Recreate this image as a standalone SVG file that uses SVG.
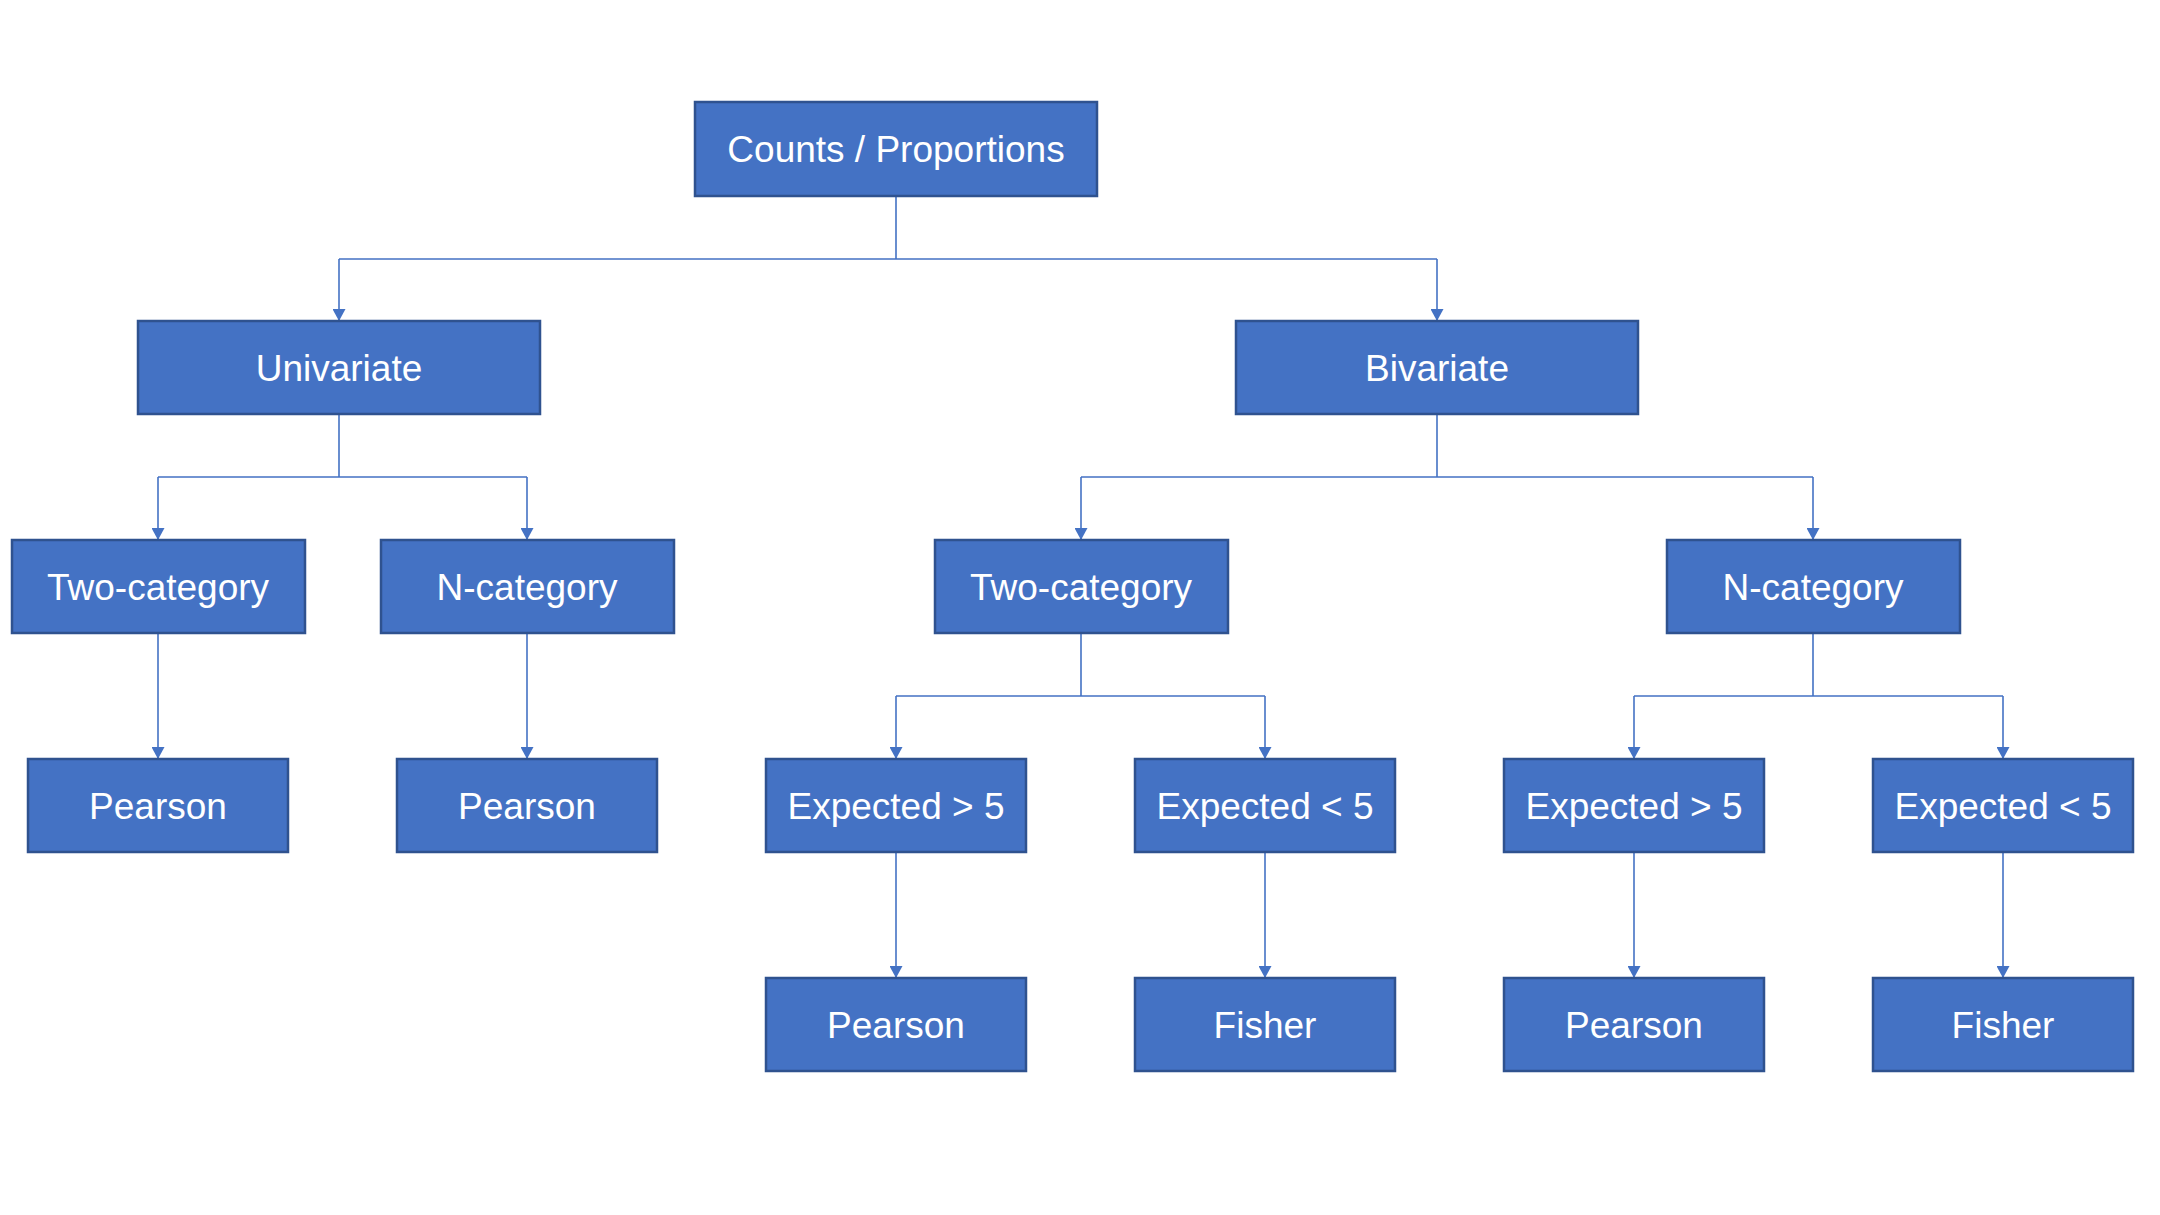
<svg xmlns="http://www.w3.org/2000/svg" width="2160" height="1215" viewBox="0 0 2160 1215">
<style>
.box{fill:#4472C4;stroke:#2F528F;stroke-width:2.5}
.lbl{fill:#FFFFFF;font-family:"Liberation Sans",Arial,sans-serif;font-size:37px;text-anchor:middle}
.con{fill:none;stroke:#4472C4;stroke-width:1.6}
</style>
<defs>
<marker id="arr" markerUnits="userSpaceOnUse" markerWidth="13" markerHeight="13" refX="12" refY="6.5" orient="auto" viewBox="0 0 13 13">
<path d="M0 0 L12 6.5 L0 13 Z" fill="#4472C4"/>
</marker>
</defs>
<rect width="2160" height="1215" fill="#FFFFFF"/>
<g id="connectors">
<path class="con" d="M896 196 V259 M339 259 H1437"/>
<path class="con" d="M339 259 V321" marker-end="url(#arr)"/>
<path class="con" d="M1437 259 V321" marker-end="url(#arr)"/>
<path class="con" d="M339 414 V477 M158 477 H527"/>
<path class="con" d="M158 477 V540" marker-end="url(#arr)"/>
<path class="con" d="M527 477 V540" marker-end="url(#arr)"/>
<path class="con" d="M1437 414 V477 M1081 477 H1813"/>
<path class="con" d="M1081 477 V540" marker-end="url(#arr)"/>
<path class="con" d="M1813 477 V540" marker-end="url(#arr)"/>
<path class="con" d="M158 633 V759" marker-end="url(#arr)"/>
<path class="con" d="M527 633 V759" marker-end="url(#arr)"/>
<path class="con" d="M1081 633 V696 M896 696 H1265"/>
<path class="con" d="M896 696 V759" marker-end="url(#arr)"/>
<path class="con" d="M1265 696 V759" marker-end="url(#arr)"/>
<path class="con" d="M1813 633 V696 M1634 696 H2003"/>
<path class="con" d="M1634 696 V759" marker-end="url(#arr)"/>
<path class="con" d="M2003 696 V759" marker-end="url(#arr)"/>
<path class="con" d="M896 852 V978" marker-end="url(#arr)"/>
<path class="con" d="M1265 852 V978" marker-end="url(#arr)"/>
<path class="con" d="M1634 852 V978" marker-end="url(#arr)"/>
<path class="con" d="M2003 852 V978" marker-end="url(#arr)"/>
</g>
<g id="root"><rect class="box" x="695" y="102" width="402" height="94"/><text class="lbl" x="896" y="162">Counts / Proportions</text></g>
<g id="univariate"><rect class="box" x="138" y="321" width="402" height="93"/><text class="lbl" x="339" y="381">Univariate</text></g>
<g id="bivariate"><rect class="box" x="1236" y="321" width="402" height="93"/><text class="lbl" x="1437" y="381">Bivariate</text></g>
<g id="uni-two"><rect class="box" x="12" y="540" width="293" height="93"/><text class="lbl" x="158" y="600">Two-category</text></g>
<g id="uni-n"><rect class="box" x="381" y="540" width="293" height="93"/><text class="lbl" x="527" y="600">N-category</text></g>
<g id="bi-two"><rect class="box" x="935" y="540" width="293" height="93"/><text class="lbl" x="1081" y="600">Two-category</text></g>
<g id="bi-n"><rect class="box" x="1667" y="540" width="293" height="93"/><text class="lbl" x="1813" y="600">N-category</text></g>
<g id="uni-two-pearson"><rect class="box" x="28" y="759" width="260" height="93"/><text class="lbl" x="158" y="819">Pearson</text></g>
<g id="uni-n-pearson"><rect class="box" x="397" y="759" width="260" height="93"/><text class="lbl" x="527" y="819">Pearson</text></g>
<g id="bi-two-gt5"><rect class="box" x="766" y="759" width="260" height="93"/><text class="lbl" x="896" y="819">Expected &gt; 5</text></g>
<g id="bi-two-lt5"><rect class="box" x="1135" y="759" width="260" height="93"/><text class="lbl" x="1265" y="819">Expected &lt; 5</text></g>
<g id="bi-n-gt5"><rect class="box" x="1504" y="759" width="260" height="93"/><text class="lbl" x="1634" y="819">Expected &gt; 5</text></g>
<g id="bi-n-lt5"><rect class="box" x="1873" y="759" width="260" height="93"/><text class="lbl" x="2003" y="819">Expected &lt; 5</text></g>
<g id="bi-two-gt5-pearson"><rect class="box" x="766" y="978" width="260" height="93"/><text class="lbl" x="896" y="1038">Pearson</text></g>
<g id="bi-two-lt5-fisher"><rect class="box" x="1135" y="978" width="260" height="93"/><text class="lbl" x="1265" y="1038">Fisher</text></g>
<g id="bi-n-gt5-pearson"><rect class="box" x="1504" y="978" width="260" height="93"/><text class="lbl" x="1634" y="1038">Pearson</text></g>
<g id="bi-n-lt5-fisher"><rect class="box" x="1873" y="978" width="260" height="93"/><text class="lbl" x="2003" y="1038">Fisher</text></g>
</svg>
